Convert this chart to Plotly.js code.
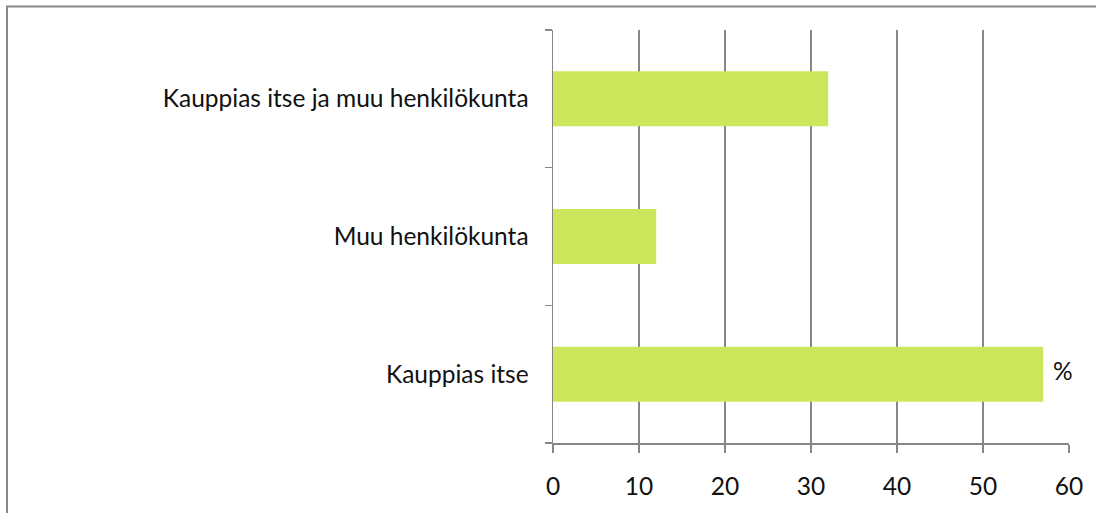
<!DOCTYPE html>
<html>
<head>
<meta charset="utf-8">
<script src="https://cdn.plot.ly/plotly-3.0.1.min.js"></script>
<style>
  html, body { margin: 0; padding: 0; background: #ffffff; }
  #chart { width: 1096px; height: 513px; }
</style>
</head>
<body>
<div id="chart"></div>
<script>
const categories = ["Kauppias itse", "Muu henkilökunta", "Kauppias itse ja muu henkilökunta"];
const values = [57, 12, 32];
const xTickValues = [0, 10, 20, 30, 40, 50, 60];
const unitLabel = "%";

const gridColor = "#868686";
const fontFamily = "Lato, 'Open Sans', sans-serif";
const fontSize = 24.5;

const trace = {
  type: "bar",
  orientation: "h",
  x: values,
  y: categories,
  marker: { color: "#cde75c", line: { width: 0 } },
  hoverinfo: "x+y"
};

const layout = {
  width: 1096,
  height: 513,
  margin: { l: 553, r: 27, t: 30, b: 70, pad: 0 },
  paper_bgcolor: "#ffffff",
  plot_bgcolor: "#ffffff",
  showlegend: false,
  bargap: 0.6,
  font: { family: fontFamily, size: fontSize, color: "#111111" },
  xaxis: {
    range: [0, 60],
    tickvals: xTickValues,
    ticktext: xTickValues.map(String),
    showgrid: true,
    gridcolor: gridColor,
    gridwidth: 1.5,
    zeroline: false,
    showline: true,
    linecolor: gridColor,
    linewidth: 1.5,
    ticks: "outside",
    ticklen: 8,
    tickwidth: 1.5,
    tickcolor: gridColor,
    ticklabelstandoff: 13,
    tickfont: { family: fontFamily, size: fontSize, color: "#111111" },
    fixedrange: true
  },
  yaxis: {
    type: "category",
    categoryorder: "array",
    categoryarray: categories,
    showgrid: false,
    zeroline: false,
    showline: true,
    linecolor: gridColor,
    linewidth: 1.5,
    ticks: "outside",
    tickson: "boundaries",
    ticklen: 7,
    tickwidth: 1.5,
    tickcolor: gridColor,
    ticklabelstandoff: 18,
    tickfont: { family: fontFamily, size: fontSize, color: "#111111" },
    fixedrange: true
  },
  annotations: [{
    xref: "x", yref: "y",
    x: 59.3, y: categories[0],
    yshift: 4,
    text: unitLabel,
    showarrow: false,
    font: { family: fontFamily, size: fontSize, color: "#111111" },
    xanchor: "center",
    yanchor: "middle"
  }],
  shapes: [{
    type: "rect",
    xref: "paper", yref: "paper",
    x0: (7 - 553) / 516, x1: (1110 - 553) / 516,
    y0: (443 - 530) / 413, y1: (443 - 6.5) / 413,
    line: { color: "#888888", width: 2 },
    fillcolor: "rgba(0,0,0,0)",
    layer: "below"
  }]
};

Plotly.newPlot("chart", [trace], layout, { staticPlot: true, displayModeBar: false });
</script>
</body>
</html>
